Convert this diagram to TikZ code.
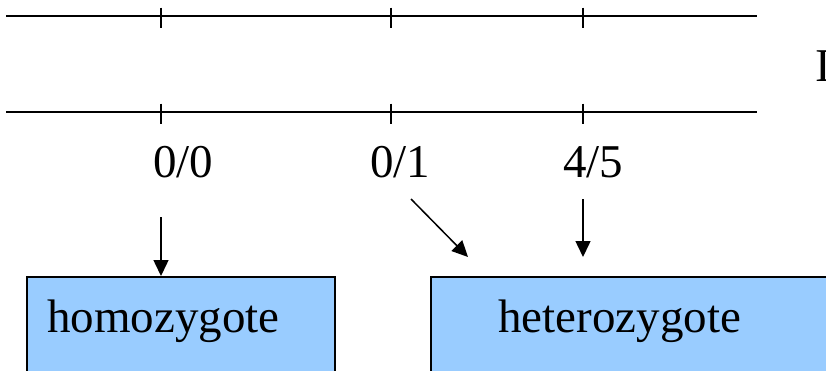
\documentclass[tikz,border=0pt]{standalone}
\usepackage{fontspec}
\setmainfont{Liberation Serif}
\usetikzlibrary{arrows.meta,positioning}
\definecolor{boxblue}{HTML}{99CCFF}

\begin{document}
\begin{tikzpicture}[x=1pt,y=-1pt,
                    axis line/.style={line width=2pt},
                    tick line/.style={line width=1.3pt},
                    geno/.style={font=\fontsize{47}{56}\selectfont,inner sep=0pt,anchor=base west},
                    type box/.style={draw,line width=1.8pt,fill=boxblue,anchor=north west,
                                     inner sep=0pt,minimum height=160pt},
                    arr/.style={-{Triangle[length=16pt,width=15pt]},line width=1.5pt}]

  \useasboundingbox (0,0) rectangle (826,370);

  % the two lines with their ticks
  \foreach \y in {15.5,111.5} {
    \draw[axis line] (6,\y) -- (757,\y);
    \foreach \x in {161,391,583}
      \draw[tick line] (\x,\y-8) -- (\x,\y+12);
  }
  \node[geno] (I) at (815,81) {I};

  \node[geno] (00) at (153,177) {0/0};
  \node[geno] (01) at (370,177) {0/1};
  \node[geno] (45) at (563,177) {4/5};

  \node[type box,minimum width=308pt] (homo) at (26,276) {};
  \node[type box,minimum width=480pt] (hetero) at (430,276) {};
  \node[geno] (homotext) at (47,332) {homozygote};
  \node[geno] (heterotext) at (498,332) {heterozygote};

  \coordinate (a00) at (161,217);
  \coordinate (a01) at (411,199);
  \coordinate (b01) at (468,257);
  \coordinate (a45) at (583,199);
  \coordinate (b45) at (583,257);

  \path[arr]
    (a00) edge (a00 |- homo.north)
    (a01) edge (b01)
    (a45) edge (b45);
\end{tikzpicture}
\end{document}
